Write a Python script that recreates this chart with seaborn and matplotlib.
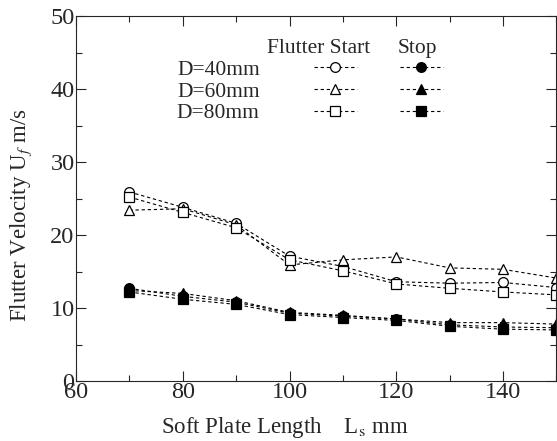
import matplotlib
matplotlib.use("Agg")
import matplotlib.pyplot as plt
from matplotlib.ticker import MultipleLocator
import seaborn as sns

sns.set_style("ticks")
plt.rcParams["font.family"] = ["Liberation Serif", "DejaVu Serif"]
plt.rcParams["mathtext.fontset"] = "stix"

# soft plate length (mm)
length = [70, 80, 90, 100, 110, 120, 130, 140, 150]

# flutter start velocity (m/s), open markers
start_d40 = [25.9, 23.8, 21.6, 17.1, 15.7, 13.6, 13.4, 13.5, 12.8]
start_d60 = [23.4, 23.6, 21.4, 15.9, 16.6, 17.0, 15.5, 15.3, 14.1]
start_d80 = [25.2, 23.1, 21.0, 16.6, 15.1, 13.3, 12.7, 12.2, 11.8]

# flutter stop velocity (m/s), filled markers
stop_d40 = [12.7, 11.6, 10.8, 9.3, 8.9, 8.5, 7.7, 7.4, 7.3]
stop_d60 = [12.4, 12.0, 11.0, 9.4, 9.0, 8.5, 8.0, 8.0, 7.8]
stop_d80 = [12.2, 11.2, 10.5, 9.1, 8.7, 8.3, 7.5, 7.1, 7.0]

diameters = ["D=40mm", "D=60mm", "D=80mm"]
markers = ["o", "^", "s"]

fig = plt.figure(figsize=(5.57, 4.41), dpi=100)
ax = fig.add_axes([0.1364, 0.136, 0.8626, 0.8277])

line_kw = dict(color="black", linestyle=(0, (3, 2.5)), linewidth=0.8,
               markersize=7, markeredgecolor="black", markeredgewidth=0.9)

open_handles = []
for vals, m in zip([start_d40, start_d60, start_d80], markers):
    sns.lineplot(x=length, y=vals, ax=ax, marker=m, markerfacecolor="white", **line_kw)
    open_handles.append(ax.lines[-1])

filled_handles = []
for vals, m in zip([stop_d40, stop_d60, stop_d80], markers):
    sns.lineplot(x=length, y=vals, ax=ax, marker=m, markerfacecolor="black", **line_kw)
    filled_handles.append(ax.lines[-1])

ax.set_xlim(60, 150)
ax.set_ylim(0, 50)
ax.xaxis.set_major_locator(MultipleLocator(20))
ax.xaxis.set_minor_locator(MultipleLocator(10))
ax.yaxis.set_major_locator(MultipleLocator(10))
ax.yaxis.set_minor_locator(MultipleLocator(5))
ax.tick_params(which="both", direction="in", top=True, right=True, width=0.8)
ax.tick_params(which="major", length=7)
ax.tick_params(which="minor", length=4)
ax.tick_params(axis="y", pad=1, labelsize=17.5)
ax.tick_params(axis="x", pad=1, labelsize=17.5)
for s in ax.spines.values():
    s.set_linewidth(0.8)

ax.set_xlabel(r"Soft Plate Length    L$_{\rm s}$ mm", fontsize=16.5, va="center")
ax.set_ylabel(r"Flutter Velocity U$_{f}$ m/s", fontsize=16.5, va="center")
ax.xaxis.set_label_coords(0.435, -0.126)
ax.yaxis.set_label_coords(-0.114, 0.455)

leg = ax.legend(open_handles + filled_handles, diameters + ["", "", ""],
                ncol=2, markerfirst=False, frameon=False, fontsize=15.5,
                handlelength=2.0, handletextpad=2.5, columnspacing=-0.5,
                labelspacing=0.08, loc="upper left", borderpad=0,
                bbox_to_anchor=(0.21, 0.88), borderaxespad=0)

ax.text(105.5, 45.6, "Flutter Start", fontsize=15.5, ha="center", va="center")
ax.text(123.9, 45.6, "Stop", fontsize=15.5, ha="center", va="center")

fig.savefig("out.png", dpi=100)
